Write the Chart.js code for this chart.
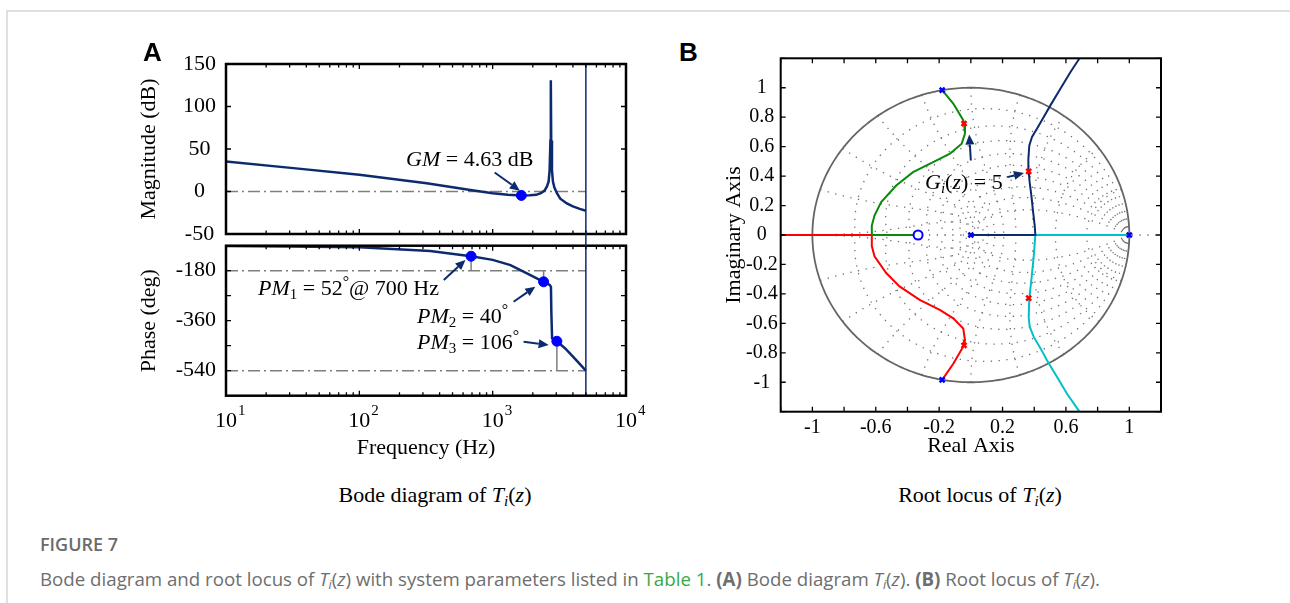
<!DOCTYPE html>
<html><head><meta charset="utf-8">
<script src="https://cdn.jsdelivr.net/npm/chart.js@4.4.1/dist/chart.umd.min.js"></script>
<style>
html,body{margin:0;padding:0;background:#fff;}
body{width:1290px;height:603px;position:relative;overflow:hidden;font-family:'Liberation Serif','Times New Roman',serif;}
.box{position:absolute;}
.ann{position:absolute;font-family:'Liberation Serif','Times New Roman',serif;font-size:22px;line-height:1;white-space:nowrap;color:#000;}
.sb{font-size:15px;position:relative;top:4px;}
.dg{font-size:16px;position:relative;top:-8px;}
.cap{position:absolute;font-family:'Liberation Serif','Times New Roman',serif;font-size:22px;line-height:1;text-align:center;white-space:nowrap;color:#000;}
.lbl{position:absolute;font-family:'Liberation Sans',Arial,sans-serif;font-weight:bold;font-size:26px;line-height:1;color:#000;}
.fig{position:absolute;font-family:'Open Sans',sans-serif;font-weight:600;font-size:18px;line-height:1;color:#6b6b6b;white-space:nowrap;}
.desc{position:absolute;font-family:'Open Sans',sans-serif;font-size:18.7px;line-height:1;color:#6e6e6e;white-space:nowrap;}
.desc .sb{font-size:12.5px;top:3px;}
</style>
</head><body>
<div class="box" style="left:7px;top:10px;width:1283px;height:2px;background:#e0e0e0"></div>
<div class="box" style="left:6px;top:10px;width:2px;height:593px;background:#e0e0e0"></div>

<div class="box" style="left:0;top:40px;width:660px;height:208px"><canvas id="cMag"></canvas></div>
<div class="box" style="left:0;top:232px;width:660px;height:240px"><canvas id="cPh"></canvas></div>
<div class="box" style="left:700px;top:40px;width:480px;height:430px"><canvas id="cRl"></canvas></div>

<div class="lbl" style="left:143px;top:39px">A</div>
<div class="lbl" style="left:679px;top:39px">B</div>

<div class="ann" style="left:406px;top:148px"><i>GM</i> = 4.63 dB</div>
<div class="ann" style="left:258px;top:276.5px"><i>PM</i><span class="sb">1</span> = 52<span class="dg">°</span>@ 700 Hz</div>
<div class="ann" style="left:417px;top:305px"><i>PM</i><span class="sb">2</span> = 40<span class="dg">°</span></div>
<div class="ann" style="left:417px;top:330.5px"><i>PM</i><span class="sb">3</span> = 106<span class="dg">°</span></div>
<div class="ann" style="left:925px;top:171px"><i>G</i><span class="sb"><i>i</i></span>(<i>z</i>) = 5</div>

<div class="cap" style="left:235px;width:400px;top:484px">Bode diagram of <i>T</i><span class="sb"><i>i</i></span>(<i>z</i>)</div>
<div class="cap" style="left:780px;width:400px;top:484px">Root locus of <i>T</i><span class="sb"><i>i</i></span>(<i>z</i>)</div>

<div class="fig" style="left:40px;top:535px">FIGURE 7</div>
<div class="desc" style="left:40px;top:569.5px">Bode diagram and root locus of <i>T</i><span class="sb"><i>i</i></span>(<i>z</i>) with system parameters listed in <span style="color:#3aa845">Table 1</span>. <b>(A)</b> Bode diagram <i>T</i><span class="sb"><i>i</i></span>(<i>z</i>). <b>(B)</b> Root locus of <i>T</i><span class="sb"><i>i</i></span>(<i>z</i>).</div>

<script>
// ---------------- data ----------------
const magFreq = [10,32,100,320,700,1000,1300,1640,1900,2120,2300,2450,2554,2629,2674,2712,2730,2748,2785,2830,2900,3034,3214,3600,4000,4500,5000];
const magDb   = [35.3,27.5,19.6,9.8,1.4,-2,-3.8,-4.63,-4.5,-3.9,-2,1,5.9,11.8,25,60,131,60,25,12,5,-2,-8.5,-14,-17.6,-20.5,-22.7];
const phFreq  = [10,30,100,340,689,1000,1360,1920,2410,2680,2736,2755,2790,3030,3500,4200,5000];
const phDeg   = [-91,-93,-96,-109,-128,-141,-160,-196,-220,-231,-238,-330,-423,-434,-460,-500,-540];
const gmFreq = [1640], gmDb = [-4.63];
const pmFreq = [689,2410,3030], pmDeg = [-128,-220,-434];
const nyquistHz = 5000;
const magTicks = [-50,0,50,100,150];
const phaseRefDeg = [-180,-540];

const greenRe = [-0.181,-0.111,-0.048,-0.043,-0.037,-0.058,-0.132,-0.238,-0.365,-0.471,-0.566,-0.608,-0.625,-0.625,-0.333];
const greenIm = [0.984,0.893,0.780,0.757,0.689,0.620,0.552,0.495,0.427,0.336,0.223,0.132,0.064,0,0];
const redRe = [-1.2,-0.625,-0.625,-0.608,-0.534,-0.450,-0.323,-0.196,-0.111,-0.048,-0.037,-0.043,-0.111,-0.181];
const redIm = [0,0,-0.075,-0.144,-0.258,-0.349,-0.441,-0.509,-0.566,-0.635,-0.715,-0.749,-0.874,-0.984];
const navyRe = [0,0.407,0.407,0.403,0.393,0.382,0.371,0.365,0.363,0.369,0.386,0.418,0.460,0.503,0.566,0.630,0.689];
const navyIm = [0,0,0,0.064,0.155,0.268,0.359,0.432,0.518,0.609,0.666,0.723,0.802,0.882,0.995,1.109,1.205];
const cyanRe = [1,0.407,0.407,0.397,0.382,0.369,0.365,0.371,0.397,0.440,0.481,0.545,0.608,0.689];
const cyanIm = [0,0,0,-0.144,-0.304,-0.429,-0.555,-0.623,-0.692,-0.770,-0.852,-0.966,-1.08,-1.205];
const poleRe = [-0.181,-0.181,0,1], poleIm = [0.984,-0.984,0,0];
const zeroRe = [-0.333], zeroIm = [0];
const gainRe = [-0.043,-0.043,0.365,0.365], gainIm = [0.757,-0.749,0.432,-0.429];
const zetaGrid = [0.1,0.2,0.3,0.4,0.5,0.6,0.7,0.8,0.9];
const wnGrid = [0.1,0.2,0.3,0.4,0.5,0.6,0.7,0.8,0.9,1.0]; // x pi/T

const magArrows = [{from:[1035,22.4], to:[1600,1.0]}];
const phArrows = [{from:[430,-213.6], to:[625,-141.5]},{from:[1436,-291.6], to:[2090,-237.6]},{from:[1706,-435.6], to:[2630,-447.5]}];
const rlArrows = [{from:[0.0,0.506], to:[-0.01,0.682]},{from:[0.23,0.393], to:[0.335,0.421]}];

// ---------------- style ----------------
const FONT = "'Liberation Serif','Times New Roman',serif";
const NAVY = '#0c2a6e', GRAY = '#7f7f7f', BLUE = '#0000ff';
const xy = (xs, ys) => xs.map((v,i)=>({x:v,y:ys[i]}));

function framePlugin(lw, logX, tickLen){
  return {id:'frame', afterDatasetsDraw(chart){
    const {ctx, chartArea:a, scales:{x,y}} = chart;
    ctx.save();
    ctx.strokeStyle='#000'; ctx.lineWidth=1.3;
    ctx.beginPath();
    y.ticks.forEach(t=>{const p=y.getPixelForValue(t.value); ctx.moveTo(a.left,p); ctx.lineTo(a.left+tickLen,p); ctx.moveTo(a.right,p); ctx.lineTo(a.right-tickLen,p);});
    if (logX){
      for (let d=1; d<=3; d++) for (let m=1; m<=9; m++){
        const p=x.getPixelForValue(m*Math.pow(10,d)); const L = m===1?tickLen:tickLen*0.7;
        ctx.moveTo(p,a.bottom); ctx.lineTo(p,a.bottom-L); ctx.moveTo(p,a.top); ctx.lineTo(p,a.top+L);
      }
    } else {
      x.ticks.forEach(t=>{const p=x.getPixelForValue(t.value); ctx.moveTo(p,a.bottom); ctx.lineTo(p,a.bottom-tickLen); ctx.moveTo(p,a.top); ctx.lineTo(p,a.top+tickLen);});
    }
    ctx.stroke();
    ctx.lineWidth=lw;
    ctx.strokeRect(a.left,a.top,a.right-a.left,a.bottom-a.top);
    ctx.restore();
  }};
}
function arrowPlugin(list){
  return {id:'arrows', afterDatasetsDraw(chart){
    const {ctx, scales:{x,y}} = chart;
    ctx.save(); ctx.strokeStyle=NAVY; ctx.fillStyle=NAVY; ctx.lineWidth=2;
    list.forEach(ar=>{
      const x0=x.getPixelForValue(ar.from[0]), y0=y.getPixelForValue(ar.from[1]);
      const x1=x.getPixelForValue(ar.to[0]), y1=y.getPixelForValue(ar.to[1]);
      const ang=Math.atan2(y1-y0,x1-x0), H=10, W=4.5;
      const bx=x1-H*Math.cos(ang), by=y1-H*Math.sin(ang);
      ctx.beginPath(); ctx.moveTo(x0,y0); ctx.lineTo(bx,by); ctx.stroke();
      ctx.beginPath(); ctx.moveTo(x1,y1);
      ctx.lineTo(bx+W*Math.sin(ang), by-W*Math.cos(ang));
      ctx.lineTo(bx-W*Math.sin(ang), by+W*Math.cos(ang)); ctx.closePath(); ctx.fill();
    });
    ctx.restore();
  }};
}
const decadeLabels = {id:'decades', afterDraw(chart){
  const {ctx, chartArea:a, scales:{x}} = chart;
  ctx.save(); ctx.fillStyle='#000';
  for (let d=1; d<=4; d++){
    const p=x.getPixelForValue(Math.pow(10,d));
    ctx.font='22px '+FONT; ctx.textAlign='center'; ctx.textBaseline='alphabetic';
    ctx.fillText('10', p, a.bottom+31);
    const w=ctx.measureText('10').width;
    ctx.font='15px '+FONT; ctx.textAlign='left';
    ctx.fillText(String(d), p+w/2+1, a.bottom+19);
  }
  ctx.restore();
}};
const nyqGap = {id:'nyqgap', afterDatasetsDraw(chart){
  const {ctx, chartArea:a, scales:{x}} = chart;
  const p=x.getPixelForValue(nyquistHz);
  ctx.save(); ctx.strokeStyle=NAVY; ctx.lineWidth=1.5;
  ctx.beginPath(); ctx.moveTo(p,0); ctx.lineTo(p,a.top); ctx.stroke(); ctx.restore();
}};
const zgrid = {id:'zgrid', beforeDatasetsDraw(chart){
  const {ctx, chartArea:a, scales:{x,y}} = chart;
  const P=(re,im)=>[x.getPixelForValue(re), y.getPixelForValue(im)];
  ctx.save();
  ctx.beginPath(); ctx.rect(a.left,a.top,a.right-a.left,a.bottom-a.top); ctx.clip();
  ctx.strokeStyle='#6f6f6f'; ctx.lineWidth=1.3; ctx.setLineDash([1.3,6.5]);
  const N=120;
  zetaGrid.forEach(z=>{
    const s=Math.sqrt(1-z*z), wmax=Math.PI/s;
    [1,-1].forEach(sg=>{
      ctx.beginPath();
      for(let i=0;i<=N;i++){const w=wmax*i/N, r=Math.exp(-z*w), th=s*w; const [px,py]=P(r*Math.cos(th), sg*r*Math.sin(th)); i?ctx.lineTo(px,py):ctx.moveTo(px,py);}
      ctx.stroke();
    });
  });
  wnGrid.forEach(k=>{
    const wn=k*Math.PI;
    [1,-1].forEach(sg=>{
      ctx.beginPath();
      for(let i=0;i<=N;i++){const z=i/N, r=Math.exp(-z*wn), th=wn*Math.sqrt(1-z*z); const [px,py]=P(r*Math.cos(th), sg*r*Math.sin(th)); i?ctx.lineTo(px,py):ctx.moveTo(px,py);}
      ctx.stroke();
    });
  });
  ctx.beginPath(); const [l0,y0]=P(x.min,0), [r0]=P(x.max,0); ctx.moveTo(l0,y0); ctx.lineTo(r0,y0); ctx.stroke();
  ctx.setLineDash([]); ctx.strokeStyle='#656565'; ctx.lineWidth=1.8;
  ctx.beginPath();
  for(let i=0;i<=360;i++){const t=i*Math.PI/180; const [px,py]=P(Math.cos(t),Math.sin(t)); i?ctx.lineTo(px,py):ctx.moveTo(px,py);}
  ctx.stroke();
  ctx.restore();
}};

const common = {responsive:true, maintainAspectRatio:false, animation:false, events:[],
  plugins:{legend:{display:false}, tooltip:{enabled:false}}};
const lineDs = (data, color, w, dash) => ({data, showLine:true, borderColor:color, borderWidth:w, borderDash:dash||[], pointRadius:0, tension:0, fill:false});
const yAxis = (min,max,step,title,cb,width,tl,size) => ({type:'linear', min, max,
  grid:{display:false, drawTicks:true, tickLength:tl}, border:{display:false},
  ticks:{stepSize:step, autoSkip:false, padding:0, crossAlign:'center', color:'#000', font:{family:FONT,size:size}, callback:cb},
  title:{display:true, text:title, color:'#000', font:{family:FONT,size:22}, padding:0},
  afterFit:s=>{s.width=width;}});

// ---------------- magnitude ----------------
new Chart(document.getElementById('cMag'), {type:'scatter',
  data:{datasets:[
    {data:xy(gmFreq,gmDb), pointRadius:5, pointBackgroundColor:BLUE, pointBorderColor:BLUE, showLine:false},
    lineDs(xy(magFreq,magDb), NAVY, 2.5),
    lineDs([{x:nyquistHz,y:-50},{x:nyquistHz,y:150}], NAVY, 1.5),
    lineDs([{x:10,y:0},{x:nyquistHz,y:0}], GRAY, 1.5, [12,4,2,4])
  ]},
  options:{...common, layout:{padding:{left:136,right:34,top:24,bottom:14}},
    scales:{
      x:{type:'logarithmic', min:10, max:10000, display:false},
      y:yAxis(-50,150,50,'Magnitude (dB)', v=>magTicks.includes(v)?String(v):'', 90, 10, 22)
    }},
  plugins:[framePlugin(2.5,true,5), arrowPlugin(magArrows)]
});

// ---------------- phase ----------------
new Chart(document.getElementById('cPh'), {type:'scatter',
  data:{datasets:[
    {data:xy(pmFreq,pmDeg), pointRadius:5, pointBackgroundColor:BLUE, pointBorderColor:BLUE, showLine:false},
    lineDs(xy(phFreq,phDeg), NAVY, 2.5),
    lineDs([{x:nyquistHz,y:-630},{x:nyquistHz,y:-90}], NAVY, 1.5),
    lineDs([{x:pmFreq[0],y:pmDeg[0]},{x:pmFreq[0],y:phaseRefDeg[0]}], GRAY, 1.5),
    lineDs([{x:pmFreq[1],y:phaseRefDeg[0]},{x:pmFreq[1],y:pmDeg[1]}], GRAY, 1.5),
    lineDs([{x:pmFreq[2],y:pmDeg[2]},{x:pmFreq[2],y:phaseRefDeg[1]}], GRAY, 1.5),
    lineDs([{x:10,y:phaseRefDeg[0]},{x:nyquistHz,y:phaseRefDeg[0]}], GRAY, 1.5, [12,4,2,4]),
    lineDs([{x:10,y:phaseRefDeg[1]},{x:nyquistHz,y:phaseRefDeg[1]}], GRAY, 1.5, [12,4,2,4])
  ]},
  options:{...common, layout:{padding:{left:136,right:34,top:13.7,bottom:0}},
    scales:{
      x:{type:'logarithmic', min:10, max:10000, grid:{display:false,drawTicks:false}, border:{display:false},
         ticks:{display:false},
         title:{display:true, text:'Frequency (Hz)', color:'#000', font:{family:FONT,size:22}, padding:{top:0,bottom:10.8}},
         afterFit:s=>{s.height=76.3;}},
      y:yAxis(-630,-90,90,'Phase (deg)', v=>(v%180===0)?String(v):'', 90, 10, 22)
    }},
  plugins:[framePlugin(2.5,true,5), arrowPlugin(phArrows), decadeLabels, nyqGap]
});

// ---------------- root locus ----------------
new Chart(document.getElementById('cRl'), {type:'scatter',
  data:{datasets:[
    {data:xy(poleRe,poleIm), pointStyle:'crossRot', pointRadius:3.5, borderWidth:2.5, pointBorderColor:BLUE, showLine:false},
    {data:xy(gainRe,gainIm), pointStyle:'crossRot', pointRadius:3.5, borderWidth:2.5, pointBorderColor:'#ff0000', showLine:false},
    {data:xy(zeroRe,zeroIm), pointStyle:'circle', pointRadius:4.5, borderWidth:2, pointBorderColor:BLUE, pointBackgroundColor:'#ffffff', showLine:false},
    lineDs(xy(greenRe,greenIm), '#0a8a0a', 2),
    lineDs(xy(redRe,redIm), '#ff0000', 2),
    lineDs(xy(navyRe,navyIm), NAVY, 2),
    lineDs(xy(cyanRe,cyanIm), '#00c0c8', 2)
  ]},
  options:{...common, layout:{padding:{left:20.7,right:19,top:18.3,bottom:0}},
    scales:{
      x:{type:'linear', min:-1.2, max:1.2, grid:{display:false,drawTicks:false}, border:{display:false},
         ticks:{stepSize:0.2, autoSkip:false, maxRotation:0, padding:4, color:'#000', font:{family:FONT,size:20},
           callback:v=>{const k=Math.round(v*10); return (Math.abs(k)%4===2)?String(k/10):'';}},
         title:{display:true, text:'Real Axis', color:'#000', font:{family:FONT,size:22}, padding:{top:0,bottom:10.8}},
         afterFit:s=>{s.height=58.3;}},
      y:yAxis(-1.2,1.2,0.2,'Imaginary Axis', v=>{const k=Math.round(v*10); return Math.abs(k)<=10?String(k/10):'';}, 60, 3, 20)
    }},
  plugins:[zgrid, framePlugin(2,false,5), arrowPlugin(rlArrows)]
});
</script>
</body></html>
